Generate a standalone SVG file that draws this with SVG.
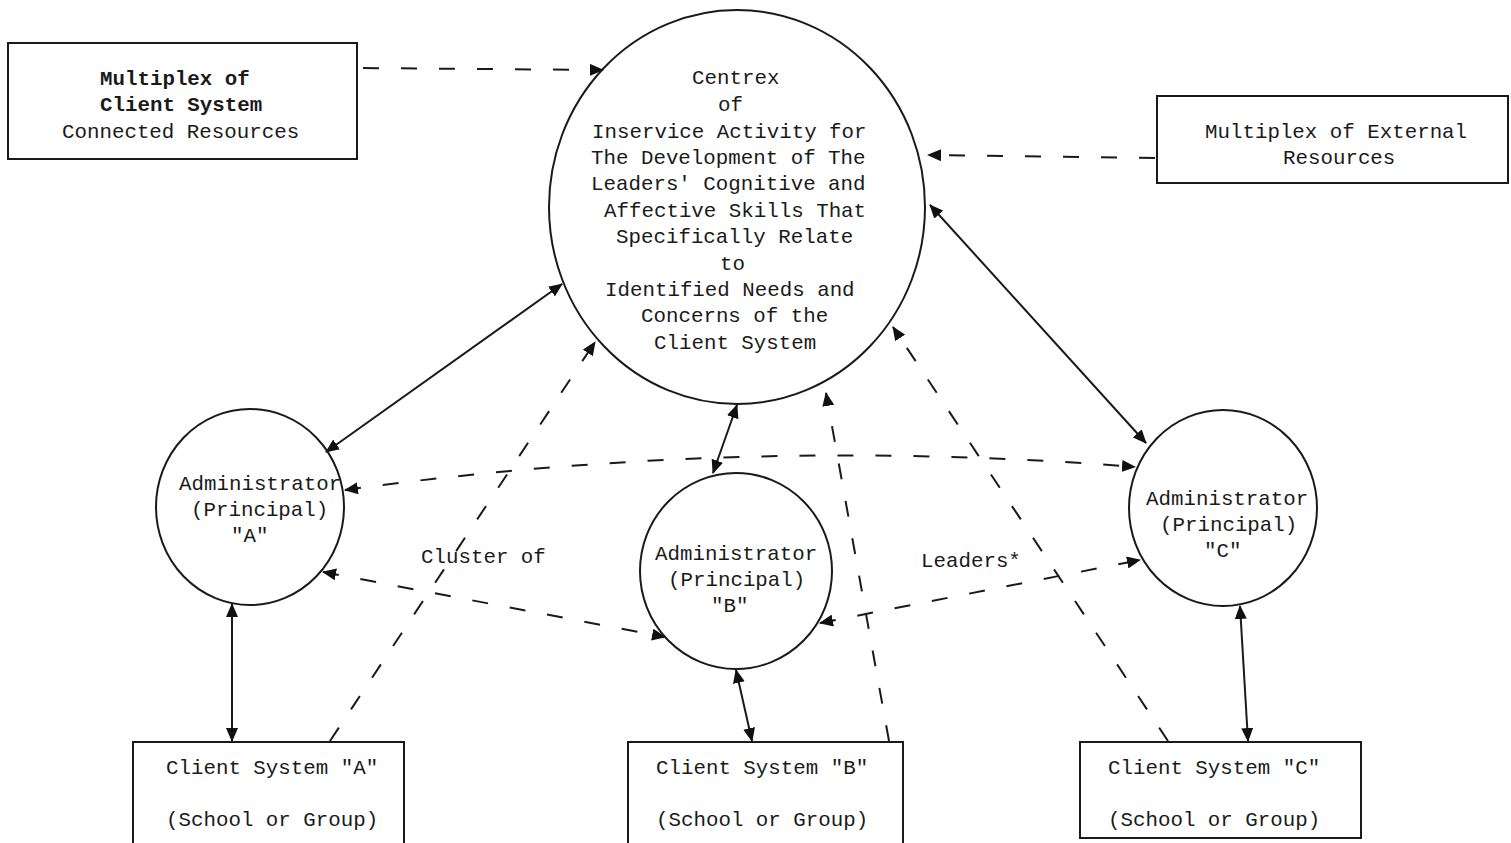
<svg xmlns="http://www.w3.org/2000/svg" width="1511" height="843" viewBox="0 0 1511 843">
<defs>
<marker id="ah" viewBox="0 0 14 12" refX="13" refY="6" markerWidth="14" markerHeight="12" markerUnits="userSpaceOnUse" orient="auto-start-reverse">
<path d="M0,0 L14,6 L0,12 Z" fill="#111"/>
</marker>
</defs>
<style>
text{font-family:"Liberation Mono","DejaVu Sans Mono",monospace;font-size:20.8px;fill:#1a1a1a;white-space:pre}
.b{font-weight:bold}
.shape{fill:none;stroke:#1a1a1a;stroke-width:2}
.solid{fill:none;stroke:#1a1a1a;stroke-width:2}
.dash{fill:none;stroke:#1a1a1a;stroke-width:2;stroke-dasharray:16 22}
</style>
<rect width="1511" height="843" fill="#fff"/>

<g id="connectors">
<line class="dash" x1="363" y1="68" x2="603" y2="70" marker-end="url(#ah)"/>
<line class="dash" x1="1155" y1="158" x2="928" y2="155" marker-end="url(#ah)"/>
<line class="solid" x1="562" y1="284" x2="326" y2="452" marker-start="url(#ah)" marker-end="url(#ah)"/>
<line class="solid" x1="737" y1="405" x2="713" y2="473" marker-start="url(#ah)" marker-end="url(#ah)"/>
<line class="solid" x1="930" y1="205" x2="1146" y2="443" marker-start="url(#ah)" marker-end="url(#ah)"/>
<line class="solid" x1="232" y1="604" x2="232" y2="741" marker-start="url(#ah)" marker-end="url(#ah)"/>
<line class="solid" x1="736" y1="670" x2="752" y2="741" marker-start="url(#ah)" marker-end="url(#ah)"/>
<line class="solid" x1="1240" y1="606" x2="1248" y2="741" marker-start="url(#ah)" marker-end="url(#ah)"/>
<path class="dash" d="M345,490 Q740,435.5 1135,467" marker-start="url(#ah)" marker-end="url(#ah)"/>
<line class="dash" x1="323" y1="572" x2="665" y2="637" marker-start="url(#ah)" marker-end="url(#ah)"/>
<line class="dash" x1="820" y1="623" x2="1140" y2="560" marker-start="url(#ah)" marker-end="url(#ah)"/>
<line class="dash" x1="330" y1="741" x2="595" y2="342" marker-end="url(#ah)"/>
<line class="dash" x1="889" y1="741" x2="826" y2="393" marker-end="url(#ah)"/>
<line class="dash" x1="1168" y1="741" x2="893" y2="327" marker-end="url(#ah)"/>
<text x="421" y="563">Cluster of</text>
<text x="921" y="567">Leaders*</text>
</g>

<g id="client-resources">
<rect class="shape" x="8" y="43" width="349" height="116"/>
<text class="b" x="100" y="85">Multiplex of</text>
<text class="b" x="100" y="111">Client System</text>
<text x="62" y="138">Connected Resources</text>
</g>

<g id="centrex">
<ellipse class="shape" cx="737" cy="207" rx="188" ry="197"/>
<text x="692" y="84">Centrex</text>
<text x="718" y="111">of</text>
<text x="592" y="138">Inservice Activity for</text>
<text x="591" y="164">The Development of The</text>
<text x="591" y="190">Leaders' Cognitive and</text>
<text x="604" y="217">Affective Skills That</text>
<text x="616" y="243">Specifically Relate</text>
<text x="720" y="270">to</text>
<text x="605" y="296">Identified Needs and</text>
<text x="641" y="322">Concerns of the</text>
<text x="654" y="349">Client System</text>
</g>

<g id="external-resources">
<rect class="shape" x="1157" y="96" width="351" height="87"/>
<text x="1205" y="138">Multiplex of External</text>
<text x="1283" y="164">Resources</text>
</g>

<g id="admin-a">
<ellipse class="shape" cx="250" cy="507" rx="94" ry="98"/>
<text x="179" y="490">Administrator</text>
<text x="191" y="516">(Principal)</text>
<text x="231" y="542">"A"</text>
</g>

<g id="admin-b">
<ellipse class="shape" cx="736" cy="571" rx="96" ry="98"/>
<text x="655" y="560">Administrator</text>
<text x="668" y="586">(Principal)</text>
<text x="711" y="612">"B"</text>
</g>

<g id="admin-c">
<ellipse class="shape" cx="1223" cy="508" rx="94" ry="98"/>
<text x="1146" y="505">Administrator</text>
<text x="1160" y="531">(Principal)</text>
<text x="1204" y="557">"C"</text>
</g>

<g id="client-a">
<rect class="shape" x="133" y="742" width="271" height="110"/>
<text x="166" y="774">Client System "A"</text>
<text x="166" y="826">(School or Group)</text>
</g>

<g id="client-b">
<rect class="shape" x="628" y="742" width="275" height="110"/>
<text x="656" y="774">Client System "B"</text>
<text x="656" y="826">(School or Group)</text>
</g>

<g id="client-c">
<rect class="shape" x="1080" y="742" width="281" height="96"/>
<text x="1108" y="774">Client System "C"</text>
<text x="1108" y="826">(School or Group)</text>
</g>
</svg>
